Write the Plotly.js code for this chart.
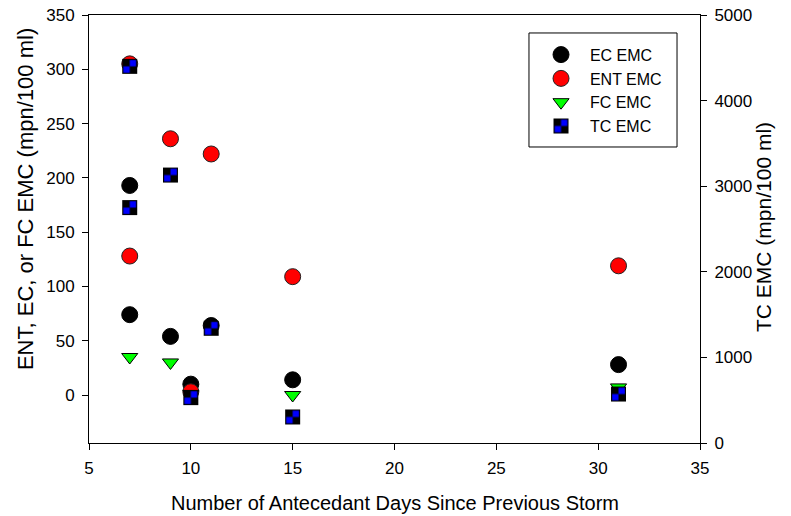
<!DOCTYPE html>
<html>
<head>
<meta charset="utf-8">
<script src="https://cdn.plot.ly/plotly-3.0.1.min.js"></script>
<style>html,body{margin:0;padding:0;background:#fff;}#chart{width:791px;height:516px;}</style>
</head>
<body>
<div id="chart"></div>
<script>
// Data
const ecDays  = [7, 7, 9, 10, 11, 15, 31];
const ecEMC   = [193, 74, 54, 10, 64, 14, 28];
const entDays = [7, 7, 9, 10, 11, 15, 31];
const entEMC  = [305, 128, 236, 3, 222, 109, 119];
const fcDays  = [7, 9, 10, 15, 31];
const fcEMC   = [35, 30, 1, 0, 7];
const tcDays  = [7, 7, 9, 10, 11, 15, 31];
const tcEMC   = [4400, 2750, 3130, 530, 1340, 304, 572];

const xTitle = 'Number of Antecedant Days Since Previous Storm';
const yTitle = 'ENT, EC, or FC EMC (mpn/100 ml)';
const y2Title = 'TC EMC (mpn/100 ml)';

const FONT = 'Liberation Sans, Arial, sans-serif';
const TC_KEY = 'rgb(1, 2, 3)';

const traces = [
  {x: ecDays, y: ecEMC, name: '\u00a0\u00a0EC EMC', type: 'scatter', mode: 'markers',
   marker: {symbol: 'circle', size: 16, color: '#000000', line: {color: '#000000', width: 1}}},
  {x: entDays, y: entEMC, name: '\u00a0\u00a0ENT EMC', type: 'scatter', mode: 'markers',
   marker: {symbol: 'circle', size: 16, color: '#ff0000', line: {color: '#222222', width: 1}}},
  {x: fcDays, y: fcEMC, name: '\u00a0\u00a0FC EMC', type: 'scatter', mode: 'markers',
   marker: {symbol: 'triangle-down', size: 14, color: '#00ff00', line: {color: '#000000', width: 1}}},
  {x: tcDays, y: tcEMC, name: '\u00a0\u00a0TC EMC', type: 'scatter', mode: 'markers', yaxis: 'y2',
   marker: {symbol: 'square', size: 15, color: TC_KEY, line: {width: 0}}}
];

const axisCommon = {
  showline: true, linecolor: '#000', linewidth: 1,
  ticks: 'outside', ticklen: 6, tickcolor: '#000', tickwidth: 1,
  showgrid: false, zeroline: false,
  tickfont: {family: FONT, size: 17, color: '#000'}
};

const layout = {
  width: 791, height: 516,
  margin: {l: 89, r: 91, t: 15, b: 73},
  paper_bgcolor: '#fff', plot_bgcolor: '#fff',
  font: {family: FONT, color: '#000'},
  showlegend: true,
  xaxis: Object.assign({}, axisCommon, {range: [5, 35], tick0: 5, dtick: 5, mirror: true, ticklabelstandoff: 4}),
  yaxis: Object.assign({}, axisCommon, {range: [-44.2, 350], tick0: 0, dtick: 50, ticklabelstandoff: 4}),
  yaxis2: Object.assign({}, axisCommon, {range: [0, 5000], tick0: 0, dtick: 1000, overlaying: 'y', side: 'right', ticklabelstandoff: 4}),
  legend: {x: 0.7398, y: 0.947, xanchor: 'left', yanchor: 'top', bgcolor: 'rgba(0,0,0,0)', borderwidth: 0,
           font: {family: FONT, size: 16, color: '#000'}, tracegroupgap: 0},
  shapes: [{type: 'rect', xref: 'paper', yref: 'paper', x0: 0.7201, x1: 0.9624, y0: 0.6916, y1: 0.958,
            line: {color: '#000', width: 1}, fillcolor: 'rgba(0,0,0,0)'}],
  annotations: [
    {text: xTitle, xref: 'paper', yref: 'paper', x: 0.5, y: -0.140, xanchor: 'center', yanchor: 'middle',
     showarrow: false, font: {family: FONT, size: 20, color: '#000'}},
    {text: yTitle, xref: 'paper', yref: 'paper', x: -0.1047, y: 0.57, xanchor: 'center', yanchor: 'middle',
     textangle: -90, showarrow: false, font: {family: FONT, size: 22, color: '#000'}},
    {text: y2Title, xref: 'paper', yref: 'paper', x: 1.1047, y: 0.5047, xanchor: 'center', yanchor: 'middle',
     textangle: -90, showarrow: false, font: {family: FONT, size: 21, color: '#000'}}
  ]
};

Plotly.newPlot('chart', traces, layout, {displayModeBar: false, staticPlot: true}).then(function (gd) {
  const svgNS = 'http://www.w3.org/2000/svg';
  const svg = gd.querySelector('svg.main-svg');
  const defs = document.createElementNS(svgNS, 'defs');
  const pat = document.createElementNS(svgNS, 'pattern');
  pat.setAttribute('id', 'tcchk');
  pat.setAttribute('patternUnits', 'objectBoundingBox');
  pat.setAttribute('patternContentUnits', 'objectBoundingBox');
  pat.setAttribute('width', '1'); pat.setAttribute('height', '1');
  [[0, 0, 1, 1, '#000000'], [0.5, 0.08, 0.42, 0.42, '#0000ff'], [0.08, 0.5, 0.42, 0.42, '#0000ff']].forEach(function (r) {
    const rect = document.createElementNS(svgNS, 'rect');
    rect.setAttribute('x', r[0]); rect.setAttribute('y', r[1]);
    rect.setAttribute('width', r[2]); rect.setAttribute('height', r[3]);
    rect.setAttribute('fill', r[4]);
    pat.appendChild(rect);
  });
  defs.appendChild(pat);
  svg.insertBefore(defs, svg.firstChild);
  gd.querySelectorAll('path.point, path.scatterpts').forEach(function (p) {
    if ((p.style.fill || '').replace(/\s/g, '') === TC_KEY.replace(/\s/g, '')) {
      p.style.fill = 'url(#tcchk)';
    }
  });
});
</script>
</body>
</html>
